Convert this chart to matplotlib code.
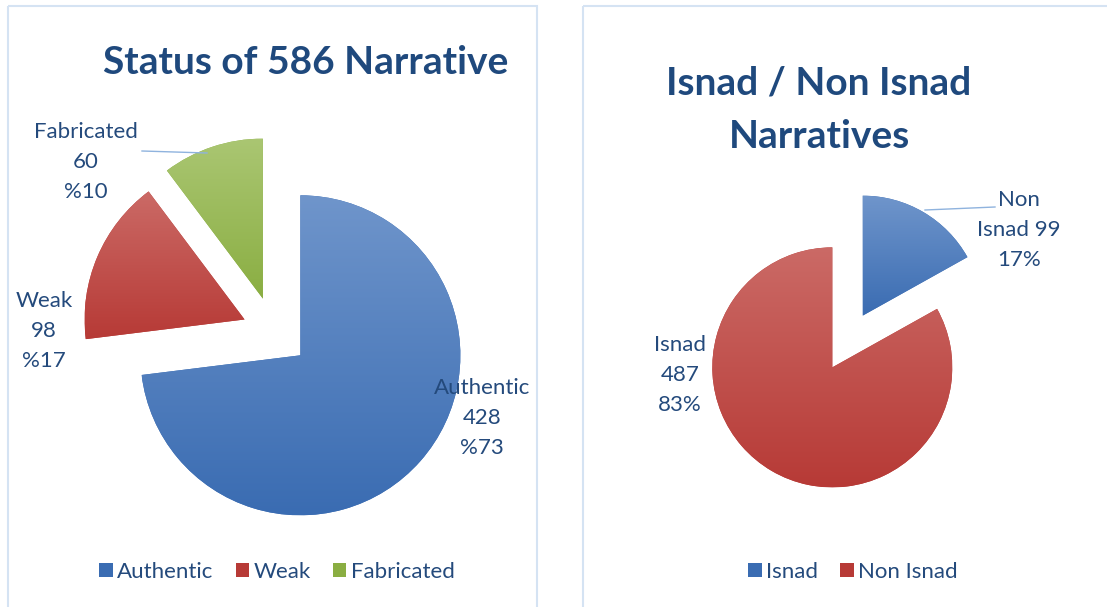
import matplotlib.pyplot as plt
import numpy as np
from matplotlib.colors import LinearSegmentedColormap
from matplotlib.patches import Rectangle
from matplotlib.lines import Line2D

# data
status_names = ['Authentic', 'Weak', 'Fabricated']
status_values = [428, 98, 60]

isnad_legend = ['Isnad', 'Non Isnad']
isnad_values = [99, 487]
isnad_label_names = ['Non\nIsnad', 'Isnad']

# colours (top, bottom) for the gradient fills
blue = ('#6F95CB', '#3A6CB2')
red = ('#CB6A66', '#B73A36')
green = ('#AAC672', '#8AAE42')
title_col = '#1F497D'
label_col = '#244A7C'
border_col = '#D5E3F3'

plt.rcParams['font.family'] = ['Lato', 'DejaVu Sans']

W, H = 1107, 607
fig = plt.figure(figsize=(W / 100, H / 100), dpi=100)


def pie_axes(cx, cy, r):
    # axes centred on (cx, cy) pixels from top-left, 1 data unit = r pixels
    half = 1.6 * r
    ax = fig.add_axes([(cx - half) / W, (H - cy - half) / H, 2 * half / W, 2 * half / H])
    return ax


def gradient_pie(ax, values, colors, explode):
    wedges, _ = ax.pie(values, colors=[c[1] for c in colors], startangle=90,
                       counterclock=False, explode=explode,
                       wedgeprops=dict(linewidth=0))
    grad = np.linspace(0, 1, 256).reshape(-1, 1)
    for w, c in zip(wedges, colors):
        ext = w.get_path().get_extents()
        cmap = LinearSegmentedColormap.from_list('g', [c[1], c[0]])
        im = ax.imshow(grad, extent=[ext.x0, ext.x1, ext.y0, ext.y1], origin='lower',
                       cmap=cmap, aspect='auto', zorder=w.get_zorder() + 0.1)
        im.set_clip_path(w)
    ax.set_xlim(-1.6, 1.6)
    ax.set_ylim(-1.6, 1.6)
    ax.set_aspect('equal')
    ax.axis('off')
    return wedges


# left pie
ax1 = pie_axes(274, 332, 160)
w1 = gradient_pie(ax1, status_values, [blue, red, green], [0.22, 0.20, 0.22])

# right pie
ax2 = pie_axes(847.5, 341.5, 120)
w2 = gradient_pie(ax2, isnad_values, [blue, red], [0.25, 0.25])

# overlay in pixel coordinates for frames, titles, labels
ov = fig.add_axes([0, 0, 1, 1], zorder=5)
ov.set_xlim(0, W)
ov.set_ylim(H, 0)
ov.axis('off')
ov.patch.set_alpha(0)

ov.add_patch(Rectangle((8, 6), 529, 620, fill=False, ec=border_col, lw=1.5))
ov.add_patch(Rectangle((583, 6), 560, 620, fill=False, ec=border_col, lw=1.5))

ov.text(306, 62, 'Status of 586 Narrative', ha='center', va='center',
        fontsize=28, fontweight='bold', color=title_col)
ov.text(819, 83, 'Isnad / Non Isnad', ha='center', va='center',
        fontsize=28, fontweight='bold', color=title_col)
ov.text(819, 136, 'Narratives', ha='center', va='center',
        fontsize=28, fontweight='bold', color=title_col)

total1 = sum(status_values)
pct1 = ['%{:.0f}'.format(v / total1 * 100) for v in status_values]
total2 = sum(isnad_values)
pct2 = ['{:.0f}%'.format(v / total2 * 100) for v in isnad_values]

lab_kw = dict(ha='center', va='center', fontsize=16, color=label_col, linespacing=1.62)
ov.text(482, 418, f'{status_names[0]}\n{status_values[0]}\n{pct1[0]}', **lab_kw)
ov.text(44, 331, f'{status_names[1]}\n{status_values[1]}\n{pct1[1]}', **lab_kw)
ov.text(86, 162, f'{status_names[2]}\n{status_values[2]}\n{pct1[2]}', **lab_kw)
ov.add_line(Line2D([142, 207], [151, 153], color='#8FB3DE', lw=1))

name0 = isnad_label_names[0].split('\n')
ov.text(1019, 230, f'{name0[0]}\n{name0[1]} {isnad_values[0]}\n{pct2[0]}', **lab_kw)
ov.text(680, 375, f'{isnad_label_names[1]}\n{isnad_values[1]}\n{pct2[1]}', **lab_kw)
ov.add_line(Line2D([925, 995], [210, 207], color='#8FB3DE', lw=1))

leg_kw = dict(loc='center', ncol=3, frameon=False, fontsize=16, handlelength=0.6,
              handleheight=0.6, handletextpad=0.2, columnspacing=1.0, labelcolor=label_col)
fig.legend(w1, status_names, bbox_to_anchor=(277 / W, 1 - 572 / H), **leg_kw)
fig.legend(w2, isnad_legend, bbox_to_anchor=(853 / W, 1 - 572 / H), **leg_kw)

plt.savefig('out.png', dpi=100)
